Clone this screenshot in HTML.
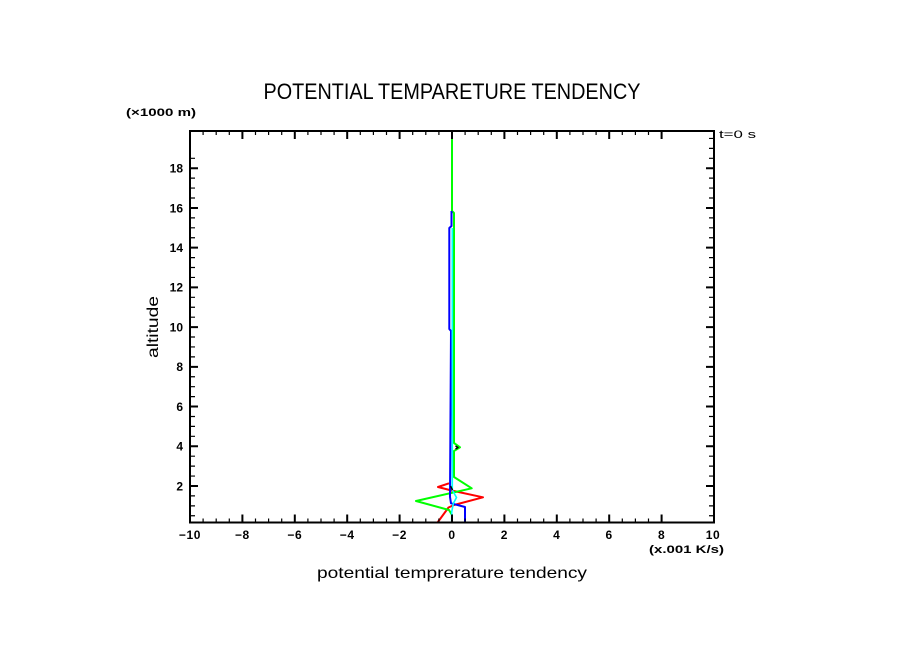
<!DOCTYPE html>
<html><head><meta charset="utf-8"><style>
html,body{margin:0;padding:0;background:#fff;}
svg{display:block;}
text{font-family:"Liberation Sans",sans-serif;fill:#000;}
.tl{font-size:12px;font-weight:bold;}
</style></head><body>
<svg width="904" height="654" viewBox="0 0 904 654" xmlns="http://www.w3.org/2000/svg">
<rect width="904" height="654" fill="#fff"/>
<!-- title -->
<text x="452" y="99" font-size="22" text-anchor="middle" textLength="377" lengthAdjust="spacingAndGlyphs">POTENTIAL TEMPARETURE TENDENCY</text>
<text x="126" y="116" font-size="11" font-weight="bold" textLength="70" lengthAdjust="spacingAndGlyphs">(×1000 m)</text>
<text x="719" y="138" font-size="11" textLength="37" lengthAdjust="spacingAndGlyphs">t=0  s</text>

<!-- series -->
<g fill="none" stroke-width="2" stroke-linejoin="round">
<polyline stroke="#ff0000" points="449,483.3 438,487 451.5,490.5 483,497.3 454,505 448.5,507.5 437.5,522.5"/>
<polyline stroke="#00ff00" points="452,131 452,211 454,213 454,443 460,447.3 454,451 454,477 471.7,488.3 416,501 449,510 452,515 452,522.5"/>
<polyline stroke="#0000ff" points="451.5,211 451.5,226 449.3,228 449.3,329 451,331 450,497 451,503.3 465,507 465,522.5"/>
<polyline stroke="#00ffff" stroke-width="1.6" points="452.3,228 452.3,490 456.5,497.5 453.3,503.5 451.7,512 451.7,522.5"/>
<polyline stroke="#000" stroke-width="1.5" points="450.5,486 452.5,490"/>
<polyline stroke="#000" stroke-width="1.5" points="455.5,446 458,447.5 455.5,449"/>
</g>

<!-- axes frame -->
<rect x="190" y="131" width="524" height="391.5" fill="none" stroke="#000" stroke-width="2"/>

<!-- minor ticks -->
<g stroke="#000" stroke-width="1.2" fill="none">
<path d="M203.1,522.5v-4m13.1,4v-4m13.1,4v-4m13.1,4v-4m13.1,4v-4m13.1,4v-4m13.1,4v-4m13.1,4v-4m13.1,4v-4m13.1,4v-4m13.1,4v-4m13.1,4v-4m13.1,4v-4m13.1,4v-4m13.1,4v-4m13.1,4v-4m13.1,4v-4m13.1,4v-4m13.1,4v-4m13.1,4v-4m13.1,4v-4m13.1,4v-4m13.1,4v-4m13.1,4v-4m13.1,4v-4m13.1,4v-4m13.1,4v-4m13.1,4v-4m13.1,4v-4m13.1,4v-4m13.1,4v-4m13.1,4v-4m13.1,4v-4m13.1,4v-4m13.1,4v-4m13.1,4v-4"/>
<path d="M203.1,131v4m13.1,-4v4m13.1,-4v4m13.1,-4v4m13.1,-4v4m13.1,-4v4m13.1,-4v4m13.1,-4v4m13.1,-4v4m13.1,-4v4m13.1,-4v4m13.1,-4v4m13.1,-4v4m13.1,-4v4m13.1,-4v4m13.1,-4v4m13.1,-4v4m13.1,-4v4m13.1,-4v4m13.1,-4v4m13.1,-4v4m13.1,-4v4m13.1,-4v4m13.1,-4v4m13.1,-4v4m13.1,-4v4m13.1,-4v4m13.1,-4v4m13.1,-4v4m13.1,-4v4m13.1,-4v4m13.1,-4v4m13.1,-4v4m13.1,-4v4m13.1,-4v4m13.1,-4v4"/>
<path d="M190,515.77h5m-5,-9.93h5m-5,-9.93h5m-5,-9.93h5m-5,-9.93h5m-5,-9.93h5m-5,-9.93h5m-5,-9.93h5m-5,-9.93h5m-5,-9.93h5m-5,-9.93h5m-5,-9.93h5m-5,-9.93h5m-5,-9.93h5m-5,-9.93h5m-5,-9.93h5m-5,-9.93h5m-5,-9.93h5m-5,-9.93h5m-5,-9.93h5m-5,-9.93h5m-5,-9.93h5m-5,-9.93h5m-5,-9.93h5m-5,-9.93h5m-5,-9.93h5m-5,-9.93h5m-5,-9.93h5m-5,-9.93h5m-5,-9.93h5m-5,-9.93h5m-5,-9.93h5m-5,-9.93h5m-5,-9.93h5m-5,-9.93h5m-5,-9.93h5m-5,-9.93h5"/>
<path d="M714,515.77h-5m5,-9.93h-5m5,-9.93h-5m5,-9.93h-5m5,-9.93h-5m5,-9.93h-5m5,-9.93h-5m5,-9.93h-5m5,-9.93h-5m5,-9.93h-5m5,-9.93h-5m5,-9.93h-5m5,-9.93h-5m5,-9.93h-5m5,-9.93h-5m5,-9.93h-5m5,-9.93h-5m5,-9.93h-5m5,-9.93h-5m5,-9.93h-5m5,-9.93h-5m5,-9.93h-5m5,-9.93h-5m5,-9.93h-5m5,-9.93h-5m5,-9.93h-5m5,-9.93h-5m5,-9.93h-5m5,-9.93h-5m5,-9.93h-5m5,-9.93h-5m5,-9.93h-5m5,-9.93h-5m5,-9.93h-5m5,-9.93h-5m5,-9.93h-5m5,-9.93h-5m5,-9.93h-5m5,-9.93h-5"/>
</g>
<!-- major ticks -->
<g stroke="#000" stroke-width="2" fill="none">
<path d="M242.4,522.5v-8m52.4,8v-8m52.4,8v-8m52.4,8v-8m52.4,8v-8m52.4,8v-8m52.4,8v-8m52.4,8v-8m52.4,8v-8"/>
<path d="M242.4,131v8m52.4,-8v8m52.4,-8v8m52.4,-8v8m52.4,-8v8m52.4,-8v8m52.4,-8v8m52.4,-8v8m52.4,-8v8"/>
<path d="M190,485.98h8m-8,-39.72h8m-8,-39.72h8m-8,-39.72h8m-8,-39.72h8m-8,-39.72h8m-8,-39.72h8m-8,-39.72h8m-8,-39.72h8"/>
<path d="M714,485.98h-8m8,-39.72h-8m8,-39.72h-8m8,-39.72h-8m8,-39.72h-8m8,-39.72h-8m8,-39.72h-8m8,-39.72h-8m8,-39.72h-8"/>
</g>

<!-- y tick labels -->
<g class="tl" text-anchor="end">
<text x="183" y="490.3">2</text>
<text x="183" y="450.6">4</text>
<text x="183" y="410.9">6</text>
<text x="183" y="371.1">8</text>
<text x="183" y="331.4">10</text>
<text x="183" y="291.7">12</text>
<text x="183" y="252">14</text>
<text x="183" y="212.3">16</text>
<text x="183" y="172.5">18</text>
</g>
<!-- x tick labels -->
<g class="tl" text-anchor="middle" style="letter-spacing:0.6px">
<text x="190" y="539">−10</text>
<text x="242.4" y="539">−8</text>
<text x="294.8" y="539">−6</text>
<text x="347.2" y="539">−4</text>
<text x="399.6" y="539">−2</text>
<text x="452" y="539">0</text>
<text x="504.4" y="539">2</text>
<text x="556.8" y="539">4</text>
<text x="609.2" y="539">6</text>
<text x="661.6" y="539">8</text>
<text x="713" y="539">10</text>
</g>
<text x="649" y="553" font-size="11" font-weight="bold" textLength="75" lengthAdjust="spacingAndGlyphs">(x.001 K/s)</text>

<!-- axis titles -->
<text x="317" y="578" font-size="16" textLength="270" lengthAdjust="spacingAndGlyphs">potential temprerature tendency</text>
<text transform="translate(158,327) rotate(-90)" font-size="16" text-anchor="middle" textLength="62" lengthAdjust="spacingAndGlyphs">altitude</text>
</svg>
</body></html>
